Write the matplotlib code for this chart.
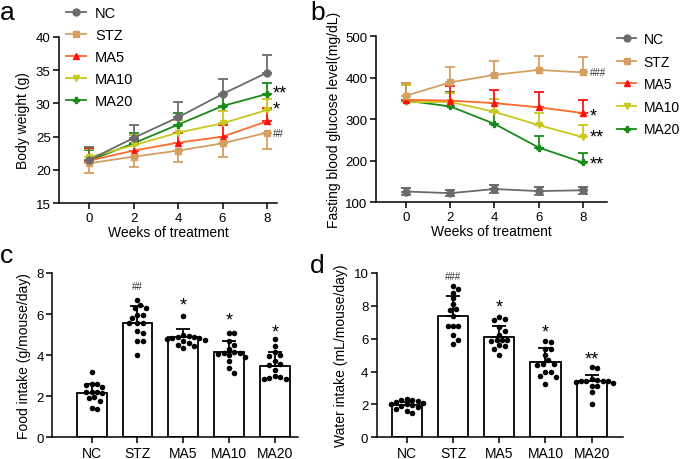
import numpy as np
import matplotlib
matplotlib.use("Agg")
import matplotlib.pyplot as plt

plt.rcParams["font.family"] = ["Liberation Sans", "DejaVu Sans"]
plt.rcParams["axes.linewidth"] = 1.1
plt.rcParams["xtick.major.width"] = 1.1
plt.rcParams["ytick.major.width"] = 1.1
plt.rcParams["xtick.major.size"] = 4
plt.rcParams["ytick.major.size"] = 4

# ---------------- data ----------------
groups = ["NC", "STZ", "MA5", "MA10", "MA20"]
weeks = [0, 2, 4, 6, 8]

# panel a: body weight (g), mean and SD
bw_mean = {
    "NC":   [21.5, 24.8, 27.9, 31.4, 34.6],
    "STZ":  [21.0, 22.0, 22.9, 24.0, 25.6],
    "MA5":  [21.4, 22.9, 24.1, 25.0, 27.3],
    "MA10": [21.9, 23.7, 25.6, 27.0, 29.0],
    "MA20": [21.4, 24.0, 26.8, 29.6, 31.4],
}
bw_sd = {
    "NC":   [1.9, 2.0, 2.3, 2.3, 2.7],
    "STZ":  [1.4, 1.6, 1.7, 2.1, 2.4],
    "MA5":  [1.9, 1.6, 1.5, 1.8, 2.0],
    "MA10": [1.3, 1.5, 1.9, 1.9, 1.7],
    "MA20": [1.6, 1.6, 1.7, 1.8, 1.7],
}
bw_marks = ["", "##", "", "*", "**"]

# panel b: fasting blood glucose (mg/dL)
fbg_mean = {
    "NC":   [126, 122, 132, 127, 129],
    "STZ":  [357, 389, 407, 419, 413],
    "MA5":  [347, 345, 339, 329, 315],
    "MA10": [341, 342, 318, 286, 257],
    "MA20": [345, 331, 289, 232, 196],
}
fbg_sd = {
    "NC":   [9, 8, 10, 9, 9],
    "STZ":  [30, 38, 33, 34, 36],
    "MA5":  [40, 35, 32, 36, 32],
    "MA10": [42, 22, 31, 29, 29],
    "MA20": [40, 34, 28, 28, 24],
}
fbg_marks = ["", "###", "*", "**", "**"]

# panel c: food intake (g/mouse/day)
food_mean = [2.14, 5.55, 4.88, 4.14, 3.49]
food_sd = [0.44, 0.83, 0.38, 0.57, 0.65]
food_pts = [
    [3.2, 2.6, 2.6, 2.55, 2.45, 2.2, 2.2, 2.2, 2.15, 1.95, 1.9, 1.75, 1.45, 1.4],
    [6.7, 6.45, 6.3, 6.3, 5.95, 5.95, 5.8, 5.55, 5.55, 5.55, 5.2, 5.1, 4.7, 4.7, 4.0],
    [5.9, 5.0, 4.95, 4.9, 4.9, 4.85, 4.85, 4.8, 4.75, 4.7, 4.6, 4.5, 4.45, 4.35],
    [5.1, 5.1, 4.7, 4.5, 4.3, 4.15, 4.1, 4.1, 4.05, 4.0, 3.9, 3.7, 3.35, 3.15],
    [4.8, 4.45, 4.15, 4.0, 3.95, 3.7, 3.55, 3.5, 3.3, 3.0, 2.95, 2.9, 2.85, 2.85],
]
food_marks = ["", "##", "*", "*", "*"]

# panel d: water intake (mL/mouse/day)
water_mean = [1.95, 7.38, 6.08, 4.56, 3.45]
water_sd = [0.22, 1.2, 0.72, 0.85, 0.37]
water_pts = [
    [2.35, 2.3, 2.25, 2.2, 2.15, 2.1, 2.05, 2.0, 1.95, 1.9, 1.85, 1.75, 1.6, 1.45],
    [9.2, 9.0, 8.8, 8.45, 8.1, 7.8, 7.75, 7.4, 6.75, 6.75, 6.75, 6.2, 5.95, 5.7],
    [7.35, 7.2, 7.15, 6.7, 6.5, 6.2, 5.9, 5.9, 5.9, 5.85, 5.6, 5.55, 5.4, 5.0],
    [5.85, 5.8, 5.4, 5.4, 5.0, 4.7, 4.45, 4.45, 4.4, 4.0, 3.95, 3.75, 3.7, 3.25],
    [4.25, 4.2, 3.55, 3.5, 3.45, 3.45, 3.4, 3.4, 3.35, 3.3, 3.15, 3.1, 2.75, 2.0],
]
water_marks = ["", "###", "*", "*", "**"]

# ---------------- styles ----------------
line_col = {"NC": "#6b6b6b", "STZ": "#d4a062", "MA5": "#ff6a2a",
            "MA10": "#c8c81e", "MA20": "#1a8a1a"}
err_col = {"NC": "#6b6b6b", "STZ": "#d4a062", "MA5": "#ff1010",
           "MA10": "#c8c81e", "MA20": "#1a8a1a"}
marker = {"NC": "o", "STZ": "s", "MA5": "^", "MA10": "v", "MA20": "P"}
msize = {"NC": 5, "STZ": 5, "MA5": 5, "MA10": 5, "MA20": 4.5}

W, H = 685, 460
fig = plt.figure(figsize=(W / 100, H / 100), dpi=100)


def px_axes(l, t, r, b):
    return fig.add_axes([l / W, 1 - b / H, (r - l) / W, (b - t) / H])


def clean(ax):
    ax.spines["top"].set_visible(False)
    ax.spines["right"].set_visible(False)
    ax.tick_params(labelsize=9.5, pad=2)


def line_panel(ax, means, sds, down_groups, marks, mark_y, mark_dx):
    for g in reversed(groups):
        m = np.array(means[g])
        s = np.array(sds[g])
        if g in down_groups:
            yerr = [s, np.zeros_like(s)]
        else:
            yerr = [np.zeros_like(s), s]
        ax.errorbar(weeks, m, yerr=yerr, fmt="none", ecolor=err_col[g],
                    elinewidth=1.3, capsize=3.5, capthick=1.3, zorder=2)
        ax.plot(weeks, m, color=line_col[g], lw=1.3, marker=marker[g],
                ms=msize[g], mfc=err_col[g], mec=err_col[g], label=g, zorder=3)
    for g, mk, yy in zip(groups, marks, mark_y):
        if not mk:
            continue
        if "#" in mk:
            ax.text(8 + mark_dx, yy, mk, fontsize=7, va="center", ha="left",
                    color="#333333")
        else:
            ax.text(8 + mark_dx, yy, mk, fontsize=13, va="center", ha="left")
    ax.set_xticks(weeks)
    ax.set_xlabel("Weeks of treatment", fontsize=10, labelpad=1)
    clean(ax)


# ---------------- panel a ----------------
ax_a = px_axes(59, 37.7, 277, 204.3)
ax_a.set_xlim(-1.35, 8.45)
ax_a.set_ylim(15, 40)
ax_a.set_yticks([15, 20, 25, 30, 35, 40])
line_panel(ax_a, bw_mean, bw_sd, ["STZ"], bw_marks,
           [0, 25.5, 0, 29.1, 31.5], 0.25)
ax_a.set_ylabel("Body weight (g)", fontsize=10, labelpad=4)
h, l = ax_a.get_legend_handles_labels()
order = [l.index(g) for g in groups]
fig.legend([h[i] for i in order], groups, loc="upper left",
           bbox_to_anchor=(66 / W, 1 - 7 / H), frameon=False, fontsize=10.5,
           handlelength=1.4, handletextpad=0.6, labelspacing=0.55,
           borderpad=0, borderaxespad=0)

# ---------------- panel b ----------------
ax_b = px_axes(376, 37.3, 606.7, 203.3)
ax_b.set_xlim(-1.36, 9.08)
ax_b.set_ylim(100, 500)
ax_b.set_yticks([100, 200, 300, 400, 500])
line_panel(ax_b, fbg_mean, fbg_sd, [], fbg_marks,
           [0, 413, 308, 257, 193], 0.3)
# NC error bars are two-sided in this panel
ax_b.errorbar(weeks, fbg_mean["NC"], yerr=fbg_sd["NC"], fmt="none",
              ecolor=err_col["NC"], elinewidth=1.3, capsize=3.5, capthick=1.3,
              zorder=2)
ax_b.set_ylabel("Fasting blood glucose level(mg/dL)", fontsize=10, labelpad=3)
h, l = ax_b.get_legend_handles_labels()
order = [l.index(g) for g in groups]
fig.legend([h[i] for i in order], groups, loc="upper left",
           bbox_to_anchor=(617 / W, 1 - 33 / H), frameon=False, fontsize=10,
           handlelength=1.4, handletextpad=0.5, labelspacing=0.62,
           borderpad=0, borderaxespad=0)


# ---------------- bar panels ----------------
def swarm_x(ax, xc, vals, d=5.4):
    trans = ax.transData
    inv = trans.inverted()
    placed = []
    xs = []
    for v in vals:
        px, py = trans.transform((xc, v))
        steps = [0]
        for k in range(1, 12):
            steps += [k * d * 0.5, -k * d * 0.5]
        for off in steps:
            ok = True
            for qx, qy in placed:
                if (px + off - qx) ** 2 + (py - qy) ** 2 < (d * 0.98) ** 2:
                    ok = False
                    break
            if ok:
                break
        placed.append((px + off, py))
        xs.append(inv.transform((px + off, py))[0])
    return xs


def bar_panel(ax, means, sds, pts, marks, mark_y, ylabel):
    x = np.arange(len(groups))
    ax.bar(x, means, width=0.65, color="white", edgecolor="black",
           linewidth=1.3, zorder=1)
    ax.errorbar(x, means, yerr=[np.zeros(len(sds)), sds], fmt="none",
                ecolor="black", elinewidth=1.3, capsize=5, capthick=1.3,
                zorder=3)
    for i, vals in enumerate(pts):
        xs = swarm_x(ax, i, vals)
        ax.scatter(xs, vals, s=16, color="black", zorder=4, linewidths=0)
    for i, (mk, yy) in enumerate(zip(marks, mark_y)):
        if not mk:
            continue
        if "#" in mk:
            ax.text(i, yy, mk, fontsize=7, ha="center", va="center",
                    color="#333333")
        else:
            ax.text(i, yy, mk, fontsize=13, ha="center", va="center")
    ax.set_xticks(x)
    ax.set_xticklabels(groups, fontsize=10)
    ax.set_ylabel(ylabel, fontsize=10, labelpad=4)
    clean(ax)
    ax.tick_params(axis="x", labelsize=10)


ax_c = px_axes(52.3, 274, 297.7, 438.3)
ax_c.set_xlim(-0.86, 4.5)
ax_c.set_ylim(0, 8)
ax_c.set_yticks([0, 2, 4, 6, 8])
bar_panel(ax_c, food_mean, food_sd, food_pts, food_marks,
          [0, 7.35, 6.45, 5.7, 5.15], "Food intake (g/mouse/day)")

ax_d = px_axes(376.7, 274, 622.7, 438.3)
ax_d.set_xlim(-0.65, 4.67)
ax_d.set_ylim(0, 10)
ax_d.set_yticks([0, 2, 4, 6, 8, 10])
bar_panel(ax_d, water_mean, water_sd, water_pts, water_marks,
          [0, 9.8, 7.95, 6.4, 4.75], "Water intake (mL/mouse/day)")

# panel letters
for lab, xx, yy in [("a", 0, 1), ("b", 310, 1), ("c", 0, 244), ("d", 310, 254)]:
    fig.text(xx / W, 1 - yy / H, lab, fontsize=19, va="top", ha="left")

fig.savefig("out.png", dpi=100)
